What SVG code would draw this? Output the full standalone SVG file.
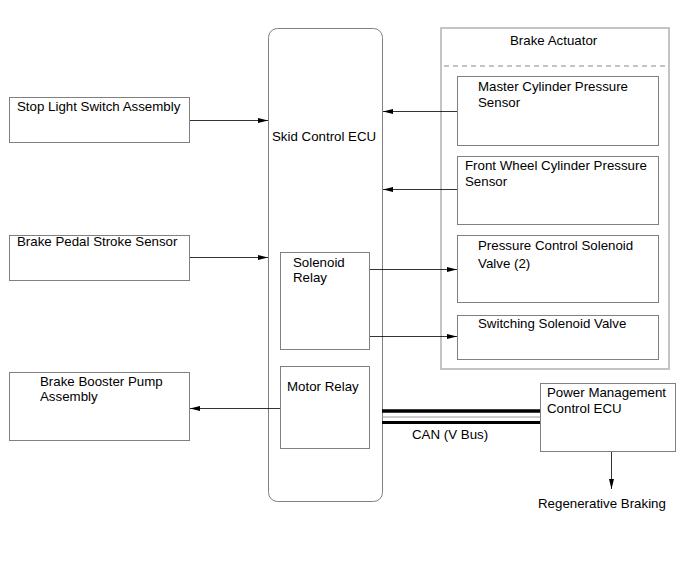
<svg xmlns="http://www.w3.org/2000/svg" width="690" height="562" viewBox="0 0 690 562">
<style>
.box{fill:#fff;stroke:#808080;stroke-width:1}
.frame{fill:none;stroke:#c4c4c4;stroke-width:2}
.t{font-family:"Liberation Sans",Arial,sans-serif;font-size:13.3px;fill:#000}
.ln{stroke:#000;stroke-width:0.8;fill:none}
</style>
<defs>
<marker id="ah" markerWidth="10" markerHeight="6" refX="10" refY="3" orient="auto" markerUnits="userSpaceOnUse">
<path d="M0,0.5 L10,3 L0,5.5 Z" fill="#000"/>
</marker>
</defs>
<rect width="690" height="562" fill="#fff"/>
<g id="brake-actuator">
<rect class="frame" x="441" y="28" width="228" height="341"/>
<line x1="444" y1="66" x2="669" y2="66" stroke="#888" stroke-width="1" stroke-dasharray="5,4"/>
<text class="t" x="510" y="45">Brake Actuator</text>
</g>
<g id="stop-light">
<rect class="box" x="9.5" y="97.5" width="180" height="45"/>
<text class="t" x="17" y="111">Stop Light Switch Assembly</text>
</g>
<g id="brake-pedal">
<rect class="box" x="9.5" y="235.5" width="180" height="45"/>
<text class="t" x="17" y="246">Brake Pedal Stroke Sensor</text>
</g>
<g id="brake-booster">
<rect class="box" x="9.5" y="372.5" width="180" height="68"/>
<text class="t" x="40" y="386">Brake Booster Pump</text>
<text class="t" x="40" y="401">Assembly</text>
</g>
<g id="skid-ecu">
<rect class="box" x="268.5" y="28.5" width="114" height="473" rx="9" ry="9"/>
<text class="t" x="272" y="141">Skid Control ECU</text>
</g>
<g id="solenoid-relay">
<rect class="box" x="280.5" y="252.5" width="89" height="97"/>
<text class="t" x="293" y="267">Solenoid</text>
<text class="t" x="293" y="282">Relay</text>
</g>
<g id="motor-relay">
<rect class="box" x="280.5" y="366.5" width="89" height="82"/>
<text class="t" x="287" y="391">Motor Relay</text>
</g>
<g id="master-cyl">
<rect class="box" x="457.5" y="76.5" width="201" height="69"/>
<text class="t" x="478" y="91">Master Cylinder Pressure</text>
<text class="t" x="478" y="107">Sensor</text>
</g>
<g id="front-wheel">
<rect class="box" x="457.5" y="156.5" width="201" height="68"/>
<text class="t" x="465" y="170">Front Wheel Cylinder Pressure</text>
<text class="t" x="465" y="186">Sensor</text>
</g>
<g id="pressure-control">
<rect class="box" x="457.5" y="235.5" width="201" height="67"/>
<text class="t" x="478" y="250">Pressure Control Solenoid</text>
<text class="t" x="478" y="268">Valve (2)</text>
</g>
<g id="switching">
<rect class="box" x="457.5" y="315.5" width="201" height="44"/>
<text class="t" x="478" y="328">Switching Solenoid Valve</text>
</g>
<g id="power-mgmt">
<rect class="box" x="540.5" y="383.5" width="135" height="68"/>
<text class="t" x="547" y="397">Power Management</text>
<text class="t" x="547" y="413">Control ECU</text>
</g>
<g id="regen">
<text class="t" x="538" y="508">Regenerative Braking</text>
</g>
<g id="connectors">
<line class="ln" x1="190" y1="120.5" x2="268" y2="120.5" marker-end="url(#ah)"/>
<line class="ln" x1="190" y1="257.5" x2="268" y2="257.5" marker-end="url(#ah)"/>
<line class="ln" x1="457" y1="111.5" x2="383" y2="111.5" marker-end="url(#ah)"/>
<line class="ln" x1="457" y1="189.5" x2="383" y2="189.5" marker-end="url(#ah)"/>
<line class="ln" x1="370" y1="269.5" x2="457" y2="269.5" marker-end="url(#ah)"/>
<line class="ln" x1="370" y1="336.5" x2="457" y2="336.5" marker-end="url(#ah)"/>
<line class="ln" x1="280" y1="408.5" x2="190" y2="408.5" marker-end="url(#ah)"/>
<line class="ln" x1="611.5" y1="452" x2="611.5" y2="489" marker-end="url(#ah)"/>
<line x1="382" y1="411" x2="540" y2="411" stroke="#000" stroke-width="3.5"/>
<line x1="382" y1="417" x2="540" y2="417" stroke="#999" stroke-width="1"/>
<line x1="382" y1="422.5" x2="540" y2="422.5" stroke="#000" stroke-width="3"/>
<text class="t" x="412" y="439">CAN (V Bus)</text>
</g>
</svg>
